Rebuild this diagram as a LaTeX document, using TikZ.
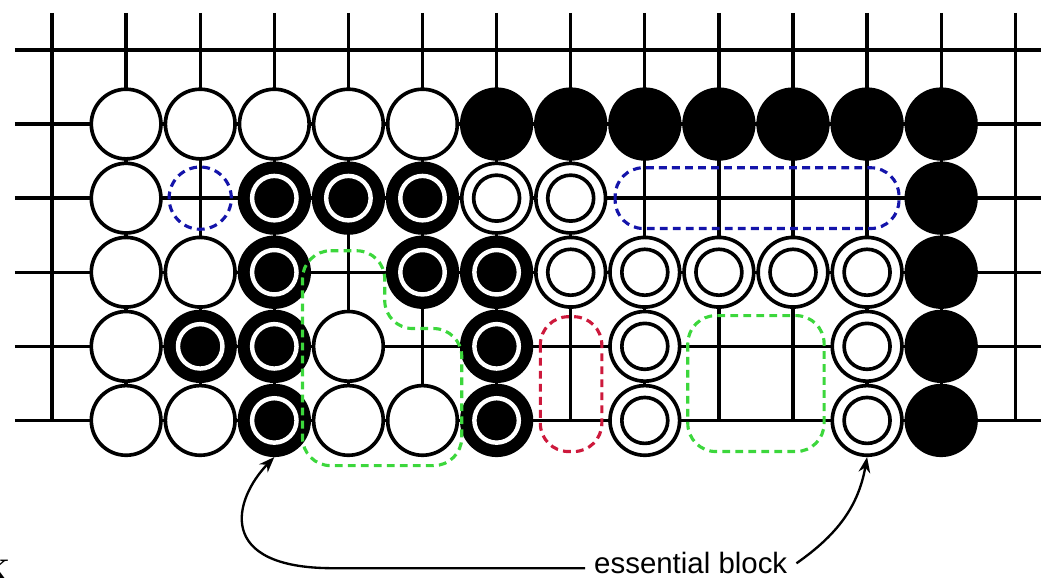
\documentclass[tikz,border=0pt]{standalone}
\usepackage{fontspec}
\newfontfamily\labelfont{Liberation Sans}
\usetikzlibrary{arrows.meta}
\definecolor{zoneblue}{RGB}{20,20,170}
\definecolor{zonered}{RGB}{205,25,60}
\definecolor{zonegreen}{RGB}{60,215,60}
\tikzset{
  boardline/.style={black, line width=1.3pt},
  wstone/.style={circle, draw=black, fill=white, line width=1.4pt, minimum size=0.94cm, inner sep=0pt},
  bstone/.style={wstone, fill=black},
  mstone/.style={bstone, path picture={\draw[white, line width=1.7pt] (path picture bounding box.center) circle (0.3);}},
  dstone/.style={wstone, path picture={\draw[black, line width=1.4pt] (path picture bounding box.center) circle (0.31);}},
  zone/.style={dash pattern=on 3pt off 2pt, line width=1.2pt, rounded corners=0.38cm},
  arr/.style={-{Stealth[length=6pt, width=4.5pt]}, line width=0.9pt}
}
\begin{document}
\begin{tikzpicture}
\useasboundingbox (-0.702,0.674) rectangle (13.347,-7.116);
\foreach \col in {0,...,13} \draw[boardline] (\col,0.5) -- (\col,-5);
\foreach \row in {0,...,5} \draw[boardline] (-0.5,-\row) -- (13.347,-\row);
\foreach \row/\col in {1/1,1/2,1/3,1/4,1/5,2/1,3/1,3/2,4/1,4/4,5/1,5/2,5/4,5/5}
  \node[wstone] (r\row c\col) at (\col,-\row) {};
\foreach \row/\col in {1/6,1/7,1/8,1/9,1/10,1/11,1/12,2/12,3/12,4/12,5/12}
  \node[bstone] (r\row c\col) at (\col,-\row) {};
\foreach \row/\col in {2/3,2/4,2/5,3/3,3/5,3/6,4/2,4/3,4/6,5/3,5/6}
  \node[mstone] (r\row c\col) at (\col,-\row) {};
\foreach \row/\col in {2/6,2/7,3/7,3/8,3/9,3/10,3/11,4/8,4/11,5/8,5/11}
  \node[dstone] (r\row c\col) at (\col,-\row) {};
\draw[zone, zoneblue] (2,-2) circle (0.42);
\draw[zone, zoneblue] (7.6,-1.59) rectangle (11.43,-2.41);
\draw[zone, zonered] (6.59,-3.6) rectangle (7.42,-5.42);
\draw[zone, zonegreen] (8.58,-3.585) rectangle (10.42,-5.42);
\draw[zone, zonegreen] (3.38,-2.71) -- (4.49,-2.71) -- (4.49,-3.76) -- (5.53,-3.76) -- (5.53,-5.61) -- (3.38,-5.61) -- cycle;
\node[font=\labelfont\fontsize{11.3}{13}\selectfont, anchor=base] (lbl) at (8.62,-7.07) {essential block};
\draw[arr] (lbl.mid west) -- ++(-3.4,0) .. controls +(-1.6,0) and +(-0.55,-0.57) .. (r5c3.south);
\draw[arr] (lbl.east) to[out=35, in=-100] (r5c11.south);
\node[anchor=base east, inner sep=0pt, font=\bfseries\fontsize{12}{14}\selectfont] (klbl) at (-0.56,-7.18) {K};
\end{tikzpicture}
\end{document}
